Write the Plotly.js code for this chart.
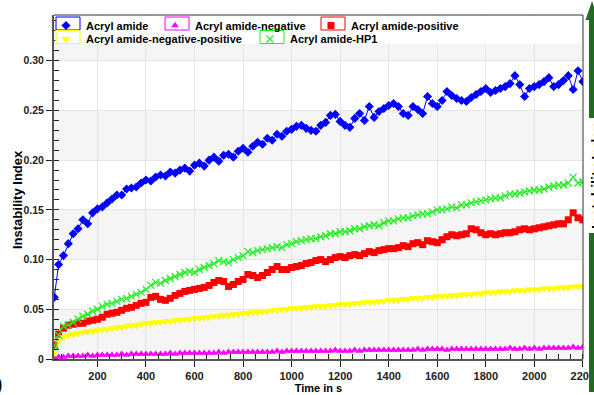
<!DOCTYPE html>
<html>
<head>
<meta charset="utf-8">
<script src="https://cdn.plot.ly/plotly-3.0.1.min.js"></script>
<style>html,body{margin:0;padding:0;background:#fff;}#chart{width:594px;height:395px;}</style>
</head>
<body>
<div id="chart"></div>
<script>
// ---- data ----
const seriesNames = ['Acryl amide', 'Acryl amide-negative', 'Acryl amide-positive', 'Acryl amide-negative-positive', 'Acryl amide-HP1'];

const timeS = [22,40,60,80,100,120,140,160,180,200,
220,240,260,280,300,320,340,360,380,400,
420,440,460,480,500,520,540,560,580,600,
620,640,660,680,700,720,740,760,780,800,
820,840,860,880,900,920,940,960,980,1000,
1020,1040,1060,1080,1100,1120,1140,1160,1180,1200,
1220,1240,1260,1280,1300,1320,1340,1360,1380,1400,
1420,1440,1460,1480,1500,1520,1540,1560,1580,1600,
1620,1640,1660,1680,1700,1720,1740,1760,1780,1800,
1820,1840,1860,1880,1900,1920,1940,1960,1980,2000,
2020,2040,2060,2080,2100,2120,2140,2160,2180,2200];

const acrylAmide = [.062,.095,.104,.116,.126,.131,.140,.136,.147,.151,
.153,.157,.161,.165,.165,.171,.172,.173,.177,.180,
.179,.183,.185,.184,.188,.187,.190,.192,.189,.195,
.197,.194,.200,.203,.199,.205,.206,.203,.209,.212,
.208,.214,.218,.216,.222,.220,.226,.224,.229,.231,
.234,.235,.232,.230,.229,.235,.238,.245,.246,.239,
.235,.233,.242,.247,.240,.254,.243,.249,.252,.255,
.257,.254,.247,.245,.254,.251,.247,.264,.257,.254,
.260,.269,.265,.262,.260,.259,.263,.266,.269,.272,
.268,.270,.272,.274,.277,.285,.276,.264,.272,.274,
.276,.279,.283,.274,.276,.280,.285,.271,.290,.279];

const acrylNegative = [.001,.002,.002,.003,.003,.003,.003,.004,.003,.004,
.004,.004,.004,.004,.005,.004,.005,.005,.005,.005,
.005,.005,.005,.005,.006,.005,.006,.006,.006,.006,
.006,.006,.006,.006,.007,.006,.007,.007,.007,.007,
.007,.007,.007,.007,.007,.007,.008,.007,.008,.008,
.008,.008,.008,.008,.008,.008,.008,.008,.009,.008,
.008,.008,.009,.008,.009,.009,.009,.009,.009,.009,
.009,.009,.009,.009,.009,.010,.009,.010,.010,.010,
.010,.009,.010,.010,.010,.010,.010,.010,.010,.010,
.010,.010,.010,.010,.011,.010,.010,.011,.010,.011,
.010,.011,.011,.011,.011,.011,.011,.012,.011,.012];

const acrylPositive = [.014,.025,.031,.034,.035,.036,.036,.038,.039,.040,
.042,.045,.046,.047,.049,.051,.052,.054,.056,.057,
.062,.063,.060,.059,.061,.064,.066,.068,.069,.070,
.071,.072,.074,.077,.079,.078,.073,.075,.078,.080,
.085,.084,.082,.084,.087,.090,.093,.090,.090,.092,
.093,.094,.096,.097,.099,.100,.098,.100,.102,.103,
.102,.104,.105,.104,.106,.108,.107,.109,.110,.111,
.111,.112,.114,.113,.116,.117,.115,.119,.118,.117,
.120,.123,.125,.124,.125,.126,.131,.130,.127,.125,
.126,.125,.126,.127,.127,.128,.130,.131,.130,.131,
.132,.133,.134,.135,.136,.136,.140,.147,.142,.140];

const acrylNegPos = [.006,.018,.022,.024,.025,.026,.027,.028,.028,.029,
.030,.030,.031,.032,.032,.033,.034,.034,.035,.036,
.036,.037,.037,.038,.038,.039,.039,.040,.040,.041,
.041,.042,.042,.043,.043,.044,.044,.045,.045,.046,
.046,.047,.047,.048,.048,.049,.049,.050,.050,.051,
.051,.051,.052,.052,.053,.053,.053,.054,.054,.055,
.055,.055,.056,.056,.057,.057,.057,.058,.058,.059,
.059,.059,.060,.060,.061,.061,.061,.062,.062,.063,
.063,.063,.064,.064,.065,.065,.065,.066,.066,.067,
.067,.067,.068,.068,.068,.069,.069,.069,.070,.070,
.070,.071,.071,.071,.072,.072,.072,.073,.073,.073];

const acrylHP1 = [.013,.024,.033,.034,.037,.040,.043,.045,.048,.050,
.053,.055,.056,.058,.060,.061,.063,.065,.067,.070,
.074,.077,.076,.079,.081,.083,.085,.087,.088,.087,
.090,.092,.094,.096,.099,.098,.097,.100,.102,.104,
.108,.107,.109,.110,.111,.112,.113,.112,.115,.116,
.118,.119,.120,.121,.121,.123,.124,.126,.126,.128,
.128,.129,.131,.131,.133,.134,.135,.134,.137,.139,
.139,.141,.142,.142,.144,.145,.146,.146,.148,.150,
.150,.151,.153,.152,.155,.155,.157,.158,.159,.160,
.161,.162,.162,.164,.166,.166,.167,.168,.169,.170,
.170,.171,.173,.174,.175,.175,.177,.183,.177,.178];

const xTickVals = [200,400,600,800,1000,1200,1400,1600,1800,2000,2200];
const xTickText = ['200','400','600','800','1000','1200','1400','1600','1800','2000','2200'];
const yTickVals = [0,0.05,0.10,0.15,0.20,0.25,0.30];
const yTickText = ['0','0.05','0.10','0.15','0.20','0.25','0.30'];
const bandStarts = [0, 0.10, 0.20, 0.30];

// ---- styles ----
const colors = ['#0000ff', '#ff00ff', '#ff0000', '#ffff00', '#22ee22'];
const symbols = ['diamond', 'triangle-up', 'square', 'triangle-down', 'x-thin'];
const sizes = [7, 7, 7, 8, 7];
const values = [acrylAmide, acrylNegative, acrylPositive, acrylNegPos, acrylHP1];
const legendIds = ['legend', 'legend2', 'legend3', 'legend4', 'legend5'];

const L = 54, R = 583, T = 15, B = 359;
const px2x = p => (p - L) / (R - L);
const px2y = p => (B - p) / (B - T);

// legend placement: [text start px, row top px], symbol box [x0, x1, y0, y1] px
const legendPos = [[86, 11], [195, 11], [351, 11], [86, 24.5], [290, 24.5]];
const boxes = [[56, 80, 17, 30], [165, 189, 17, 30], [321, 345, 17, 30], [56, 80, 30.5, 43.5], [260, 284, 30.5, 43.5]];

function markerFor(i) {
  const m = {symbol: symbols[i], size: sizes[i], color: colors[i]};
  if (symbols[i] === 'x-thin') m.line = {color: colors[i], width: 1.2};
  return m;
}

const traces = [];
for (let i = 0; i < 5; i++) {
  traces.push({
    type: 'scatter', mode: 'lines+markers', x: timeS, y: values[i],
    name: seriesNames[i], showlegend: false,
    line: {color: colors[i], width: 1}, marker: markerFor(i), hoverinfo: 'skip'
  });
}
for (let i = 0; i < 5; i++) {
  traces.push({
    type: 'scatter', mode: 'markers', x: [null], y: [null],
    name: seriesNames[i], showlegend: true, legend: legendIds[i],
    marker: markerFor(i), hoverinfo: 'skip'
  });
}

const shapes = [];
bandStarts.forEach(b => shapes.push({type: 'rect', xref: 'paper', yref: 'y', x0: 0, x1: 1, y0: b, y1: b + 0.05,
  fillcolor: '#f5f5f5', line: {width: 0}, layer: 'below'}));
// white header strip where the legend sits
shapes.push({type: 'rect', xref: 'paper', yref: 'paper', x0: px2x(55.5), x1: px2x(582), y0: px2y(44), y1: px2y(15.6),
  fillcolor: '#ffffff', line: {width: 0}, layer: 'above'});
// top and right frame lines
shapes.push({type: 'line', xref: 'paper', yref: 'paper', x0: 0, x1: 1, y0: 1, y1: 1, line: {color: '#333', width: 1}});
shapes.push({type: 'line', xref: 'paper', yref: 'paper', x0: 1, x1: 1, y0: 0, y1: 1, line: {color: '#333', width: 1}});
// legend symbol boxes
boxes.forEach((b, i) => shapes.push({type: 'rect', xref: 'paper', yref: 'paper', x0: px2x(b[0]), x1: px2x(b[1]),
  y0: px2y(b[3]), y1: px2y(b[2]), line: {color: colors[i], width: 1}, fillcolor: 'rgba(0,0,0,0)', layer: 'above'}));
// green arrow bar at the right edge
const green = '#236b23';
shapes.push({type: 'path', xref: 'paper', yref: 'paper',
  path: `M ${px2x(585.5)},${px2y(20)} L ${px2x(592)},${px2y(1)} L ${px2x(598.5)},${px2y(20)} Z`,
  fillcolor: green, line: {width: 0}});
shapes.push({type: 'rect', xref: 'paper', yref: 'paper', x0: px2x(589), x1: px2x(596), y0: px2y(118), y1: px2y(19),
  fillcolor: green, line: {width: 0}});
shapes.push({type: 'rect', xref: 'paper', yref: 'paper', x0: px2x(589), x1: px2x(596), y0: px2y(392), y1: px2y(233),
  fillcolor: green, line: {width: 0}});

const bold = (size, color) => ({family: 'Liberation Sans, Arial, sans-serif', size: size, color: color || '#000', weight: 'bold'});

const annotations = [
  {text: 'Instability Index', xref: 'paper', yref: 'paper', x: px2x(17), y: px2y(200), textangle: -90,
   showarrow: false, font: bold(13, '#000'), xanchor: 'center', yanchor: 'middle'},
  {text: 'Instability Index', xref: 'paper', yref: 'paper', x: px2x(597), y: px2y(176), textangle: -90,
   showarrow: false, font: bold(14, '#000'), xanchor: 'center', yanchor: 'middle'},
  {text: ')', xref: 'paper', yref: 'paper', x: px2x(5), y: px2y(384), showarrow: false,
   font: {family: 'Liberation Sans, Arial, sans-serif', size: 20, color: '#000'}, xanchor: 'right', yanchor: 'middle'}
];

const layout = {
  width: 594, height: 395,
  margin: {l: L, r: 594 - R, t: T, b: 395 - B, pad: 0, autoexpand: false},
  paper_bgcolor: '#ffffff', plot_bgcolor: '#ffffff',
  showlegend: true,
  xaxis: {
    range: [21, 2200.6], showline: true, linecolor: '#555', linewidth: 2, mirror: false,
    ticks: 'outside', ticklen: 6, tickwidth: 1, tickcolor: '#222', ticklabeloverflow: 'allow',
    tickmode: 'array', tickvals: xTickVals, ticktext: xTickText, tickfont: bold(11, '#222'),
    showgrid: true, gridcolor: '#e4e4e4', gridwidth: 1, zeroline: false,
    minor: {tickmode: 'linear', tick0: 0, dtick: 50, ticks: 'inside', ticklen: 5, tickcolor: '#222', showgrid: false},
    title: {text: 'Time in s', font: bold(11, '#000'), standoff: 3}
  },
  yaxis: {
    range: [0, 0.346], showline: true, linecolor: '#555', linewidth: 2, mirror: false,
    ticks: 'outside', ticklen: 6, tickwidth: 1, tickcolor: '#222',
    tickmode: 'array', tickvals: yTickVals, ticktext: yTickText, tickfont: bold(10.5, '#222'),
    showgrid: true, gridcolor: '#e4e4e4', gridwidth: 1, zeroline: false,
    minor: {tickmode: 'linear', tick0: 0, dtick: 0.01, ticks: 'inside', ticklen: 5, tickcolor: '#222', showgrid: false}
  },
  shapes: shapes,
  annotations: annotations
};

legendIds.forEach((id, i) => {
  layout[id] = {orientation: 'h', xanchor: 'left', yanchor: 'top', bgcolor: 'rgba(0,0,0,0)', borderwidth: 0,
    font: bold(11, '#000'), indentation: 0, itemclick: false, itemdoubleclick: false,
    x: px2x(legendPos[i][0] + 2 - 42), y: px2y(legendPos[i][1])};
});

Plotly.newPlot('chart', traces, layout, {staticPlot: true, displayModeBar: false});
</script>
</body>
</html>
